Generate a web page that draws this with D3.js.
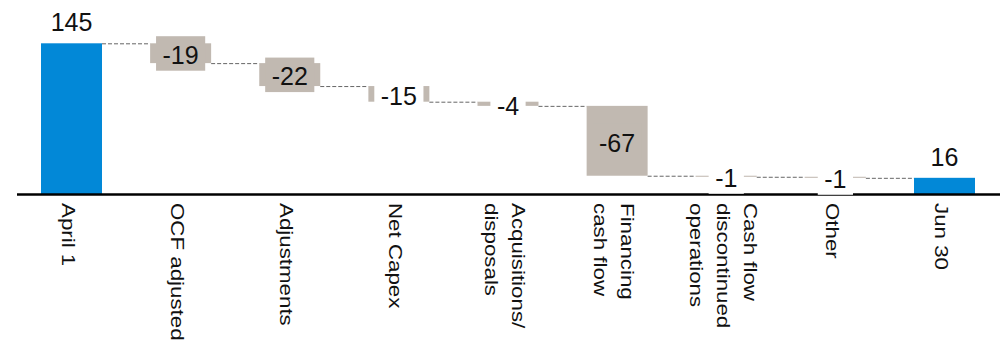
<!DOCTYPE html>
<html>
<head>
<meta charset="utf-8">
<script src="https://cdn.jsdelivr.net/npm/d3@7/dist/d3.min.js"></script>
<style>
  body { margin: 0; background: #fff; }
  text { font-family: "Liberation Sans", Arial, sans-serif; fill: #111; }
</style>
</head>
<body>
<svg></svg>
<script>
var width = 1002
var height = 343

var categories = [
    "April 1",
    "OCF adjusted",
    "Adjustments",
    "Net Capex",
    "Acquisitions/\ndisposals",
    "Financing\ncash flow",
    "Cash flow\ndiscontinued\noperations",
    "Other",
    "Jun 30"
]
var values = [145, -19, -22, -15, -4, -67, -1, -1, 16]
var isTotal = [true, false, false, false, false, false, false, false, true]

var blue = "#0288d7"
var grey = "#c1b9b1"

// running totals -> start / end of each bar
var rows = []
var run = 0
values.forEach(function (v, i) {
    var start = isTotal[i] ? 0 : run
    var end = isTotal[i] ? v : run + v
    run = end
    rows.push({ cat: categories[i], value: v, start: start, end: end, total: isTotal[i] })
})

var x = d3.scaleBand()
    .domain(categories)
    .range([41, 975])
    .paddingInner(0.441)
    .paddingOuter(0)

var y = d3.scaleLinear()
    .domain([0, 145])
    .range([194.5, 43.3])

var svg = d3.select("svg")
    .attr("width", width)
    .attr("height", height)

// connectors
svg.append("g")
    .selectAll("line")
    .data(rows.slice(0, -1))
    .enter()
    .append("line")
    .attr("x1", d => x(d.cat) + x.bandwidth())
    .attr("x2", (d, i) => x(rows[i + 1].cat))
    .attr("y1", d => y(d.end) + 0.5)
    .attr("y2", d => y(d.end) + 0.5)
    .attr("stroke", "#666")
    .attr("stroke-width", 1)
    .attr("stroke-dasharray", "4,2")

// bars
svg.append("g")
    .selectAll("rect")
    .data(rows)
    .enter()
    .append("rect")
    .attr("x", d => x(d.cat))
    .attr("width", x.bandwidth())
    .attr("y", d => y(Math.max(d.start, d.end)))
    .attr("height", d => Math.max(1, Math.abs(y(d.start) - y(d.end))))
    .attr("fill", d => d.total ? blue : grey)

// axis line
svg.append("line")
    .attr("x1", 17)
    .attr("x2", width - 2)
    .attr("y1", y(0))
    .attr("y2", y(0))
    .attr("stroke", "#000")
    .attr("stroke-width", 2.5)

// value labels
var fs = 25
var labels = svg.append("g")
    .selectAll("g")
    .data(rows)
    .enter()
    .append("g")

labels.each(function (d) {
    var g = d3.select(this)
    var cx = x(d.cat) + x.bandwidth() / 2
    var txt = String(d.value)
    if (d.total) {
        g.append("text")
            .attr("x", cx)
            .attr("y", y(d.end) - 12)
            .attr("text-anchor", "middle")
            .attr("font-size", fs)
            .text(txt)
        return
    }
    var cy = (y(d.start) + y(d.end)) / 2
    var barH = Math.abs(y(d.start) - y(d.end))
    var t = g.append("text")
        .attr("x", cx)
        .attr("y", cy)
        .attr("dy", "0.43em")
        .attr("text-anchor", "middle")
        .attr("font-size", fs)
        .text(txt)
    var w = t.node().getComputedTextLength() + 13
    g.insert("rect", "text")
        .attr("x", cx - w / 2)
        .attr("width", w)
        .attr("y", cy - 17)
        .attr("height", 34.5)
        .attr("fill", barH >= 18 ? grey : "#fff")
})

// category labels, rotated
var lh = 27
svg.append("g")
    .selectAll("text")
    .data(rows)
    .enter()
    .append("text")
    .attr("transform", d => `translate(${x(d.cat) + x.bandwidth() / 2}, 203) rotate(90) scale(1.24, 1)`)
    .attr("font-size", 18)
    .each(function (d) {
        var lines = d.cat.split("\n")
        var n = lines.length
        d3.select(this).selectAll("tspan")
            .data(lines)
            .enter()
            .append("tspan")
            .attr("x", 0)
            .attr("y", (l, i) => 9.5 - (n - 1) * lh / 2 + i * lh)
            .text(l => l)
    })
</script>
</body>
</html>
